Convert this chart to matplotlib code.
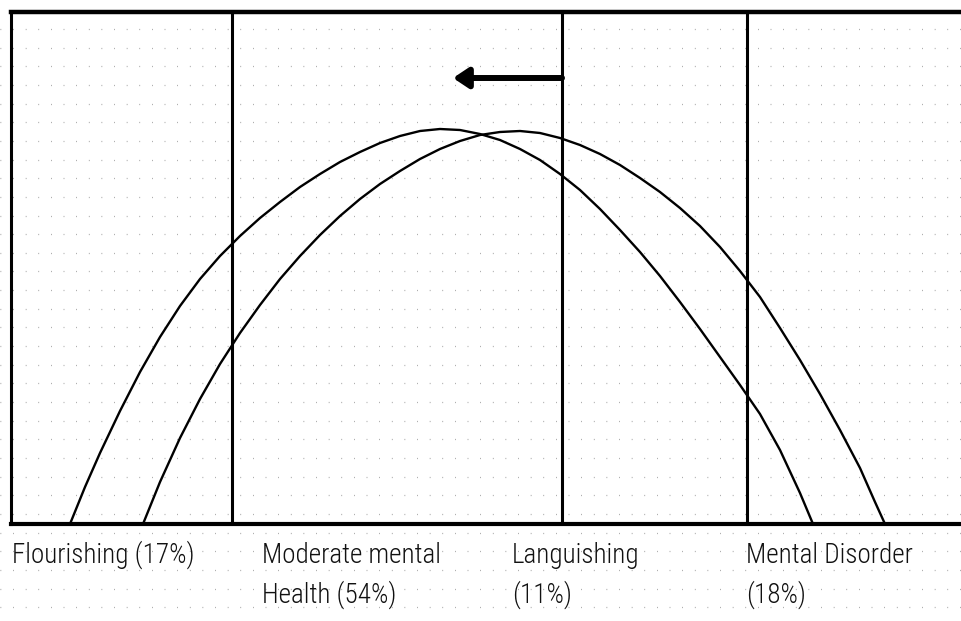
import matplotlib
matplotlib.use("Agg")
import matplotlib.pyplot as plt
from matplotlib.lines import Line2D
from matplotlib.patches import ArrowStyle

# ---------------- data ----------------
# continuum position (x) and relative frequency (height) for each curve
before_x = [70, 85, 100, 120, 140, 160, 180, 200, 220, 240, 260, 280, 300,
            320, 340, 360, 380, 400, 420, 440, 460, 480, 500, 520, 540, 560,
            580, 600, 620, 640, 660, 680, 700, 720, 740, 760, 780, 800, 813]
before_h = [0, 37, 71, 113, 152, 187, 218, 245, 268, 288, 306, 322, 337,
            350, 362, 372, 381, 388, 393, 395, 394, 390, 384, 375, 364, 350,
            334, 315, 294, 272, 248, 222, 195, 167, 139, 110, 74, 31, 0]

after_x = [143, 160, 180, 200, 220, 240, 260, 280, 300, 320, 340, 360, 380,
           400, 420, 440, 460, 480, 500, 520, 540, 560, 580, 600, 620, 640,
           660, 680, 700, 720, 740, 760, 780, 800, 820, 840, 860, 875, 885]
after_h = [0, 42, 86, 125, 160, 191, 219, 245, 268, 289, 308, 325, 340,
           353, 365, 375, 383, 389, 392, 393, 391, 386, 379, 370, 359, 346,
           332, 316, 298, 277, 253, 227, 196, 164, 130, 94, 56, 22, 0]

# category boundaries on the continuum
boundaries = [232, 562, 747]

# shift arrow (from, to) on the continuum and its height
shift_from, shift_to, shift_h = 562, 453, 446

labels = ["Flourishing (17%)", "Moderate mental\nHealth (54%)",
          "Languishing\n(11%)", "Mental Disorder\n(18%)"]

# ---------------- figure ----------------
W, H = 961, 621
fig = plt.figure(figsize=(W / 100, H / 100), dpi=100)
fig.patch.set_facecolor("white")

# faint dotted scan texture
ys = [29 + 18.65 * i for i in range(32)]
for yy in ys:
    fig.add_artist(Line2D([0, 1], [1 - yy / H, 1 - yy / H], transform=fig.transFigure,
                          ls=(0, (0.6, 9.5)), color="#959595", lw=0.9, zorder=0))

left_px, top_px, bottom_px, right_px = 11, 12, 524, 985
ax = fig.add_axes([left_px / W, (H - bottom_px) / H,
                   (right_px - left_px) / W, (bottom_px - top_px) / H])
ax.patch.set_visible(False)
ax.set_xlim(left_px, right_px)
ax.set_ylim(0, bottom_px - top_px)
ax.set_xticks([])
ax.set_yticks([])
ax.spines["right"].set_visible(False)
ax.spines["left"].set_linewidth(2.2)
ax.spines["top"].set_linewidth(3.2)
ax.spines["bottom"].set_linewidth(3.0)

for b in boundaries:
    ax.axvline(b, color="black", lw=2.2)

for xs, hs in ((before_x, before_h), (after_x, after_h)):
    ax.plot(xs, hs, color="black", lw=1.7, solid_joinstyle="round",
            solid_capstyle="round")

ax.annotate("", xy=(shift_to, shift_h), xytext=(shift_from, shift_h),
            arrowprops=dict(arrowstyle=ArrowStyle("-|>", head_length=0.45, head_width=0.3),
                            lw=4.3, color="black", mutation_scale=20,
                            shrinkA=0, shrinkB=0))

# labels under the axis
label_x = [12, 262, 512, 746]
baselines = [563, 603]
font = ["Roboto Condensed", "DejaVu Sans"]
for x, lab in zip(label_x, labels):
    for i, line in enumerate(lab.split("\n")):
        fig.text(x / W, 1 - baselines[i] / H, line, family=font, fontsize=19.5,
                 fontstretch="condensed", fontweight="light",
                 ha="left", va="baseline", color="#111111")

fig.savefig("out.png", dpi=100)
